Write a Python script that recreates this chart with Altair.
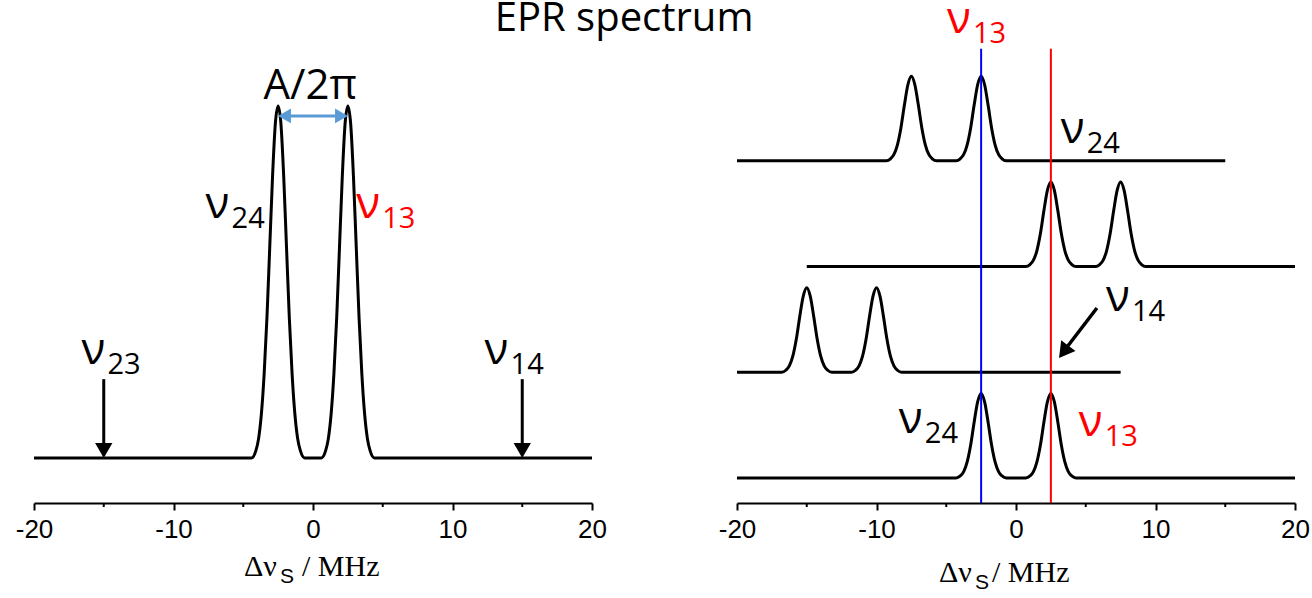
import altair as alt
import pandas as pd

# ---------------- data ----------------
TITLE = "EPR spectrum"
X_DOMAIN = [-20, 20]
MAJOR_TICKS = [-20, -10, 0, 10, 20]
MINOR_TICKS = [-15, -5, 5, 15]

# left panel: one spectrum with two lines at -2.5 / +2.5 MHz
L_RANGE = [-20, 20]
L_PEAKS = [-2.5, 2.5]
L_PROFILE_OFF = [-1.9, -1.6, -1.4, -1.2, -1.0, -0.8, -0.6, -0.4, -0.2, 0.0,
                 0.2, 0.4, 0.6, 0.8, 1.0, 1.2, 1.4, 1.6, 1.9]
L_PROFILE_VAL = [0.0, 0.02, 0.055, 0.125, 0.24, 0.40, 0.60, 0.80, 0.95, 1.0,
                 0.95, 0.80, 0.60, 0.40, 0.24, 0.125, 0.055, 0.02, 0.0]
L_Y_DOMAIN = [-0.128, 1.185]

L_ARROW_X = [-15, 15]
L_ARROW_TOP = [0.224, 0.224]
L_ARROW_SHAFT_END = [0.04, 0.04]
L_ARROW_TIP = [0.0, 0.0]

L_SPLIT_SHAFT = [-2.0, 2.0]
L_SPLIT_TIPS = [-2.5, 2.5]
L_SPLIT_Y = 0.972
L_SPLIT_LABEL = "A/2π"
L_SPLIT_LABEL_X = -0.2
L_SPLIT_LABEL_Y = 1.02

L_LABEL_X = [-7.7, 3.1, -16.6, 12.3]
L_LABEL_Y = [0.682, 0.682, 0.267, 0.267]
L_LABEL_SUB = ["24", "13", "23", "14"]
L_LABEL_COLOR = ["black", "#ff0000", "black", "black"]

# right panel: four stacked spectra
R_TRACE_OFFSET = [3, 2, 1, 0]
R_TRACE_START = [-20, -15, -20, -20]
R_TRACE_END = [15, 20, 7.5, 20]
R_TRACE_PEAKS = [[-7.5, -2.5], [2.5, 7.5], [-15, -10], [-2.5, 2.5]]
R_PEAK_HEIGHT = 0.8
R_PROFILE_OFF = [-1.8, -1.5, -1.25, -1.0, -0.75, -0.5, -0.25, 0.0,
                 0.25, 0.5, 0.75, 1.0, 1.25, 1.5, 1.8]
R_PROFILE_VAL = [0.0, 0.024, 0.076, 0.19, 0.39, 0.66, 0.9, 1.0,
                 0.9, 0.66, 0.39, 0.19, 0.076, 0.024, 0.0]
R_Y_DOMAIN = [-0.2365, 4.134]

R_VLINE_X = [-2.5, 2.5]
R_VLINE_COLOR = ["#0000ff", "#ff0000"]
R_VLINE_TOP = 4.06

R_ARROW_START = [5.8, 1.608]
R_ARROW_SHAFT_END = [3.55, 1.22]
R_ARROW_TIP = [3.08, 1.135]

R_LABEL_X = [-4.95, 3.2, 6.45, -8.4, 4.5]
R_LABEL_Y = [4.210, 3.169, 1.580, 0.426, 0.397]
R_LABEL_SUB = ["13", "24", "14", "24", "13"]
R_LABEL_COLOR = ["#ff0000", "black", "black", "black", "#ff0000"]

# ---------------- helpers ----------------
W, H = 558, 462
LABEL_FONT = "Open Sans"

XAXIS = alt.Axis(values=MAJOR_TICKS, tickSize=7, tickWidth=2, tickColor="black",
                 domainColor="black", domainWidth=2, labelFont="Liberation Sans",
                 labelFontSize=26, labelColor="black", labelPadding=6,
                 labelExpr="'' + datum.value",
                 labelFlush=False, labelOverlap=False, grid=False, title=None)
XSCALE = alt.Scale(domain=X_DOMAIN, nice=False, zero=False)


def X(field):
    return alt.X(f"{field}:Q", scale=XSCALE, axis=XAXIS)


def Y(field, dom):
    return alt.Y(f"{field}:Q", scale=alt.Scale(domain=dom, nice=False, zero=False), axis=None)


def Y2(field):
    return alt.Y2(f"{field}:Q")


def spectrum_points(trace, start, end, base, peaks, offs, vals, h):
    pts = [(start, base), (end, base)]
    for c in peaks:
        for o, v in zip(offs, vals):
            pts.append((c + o, base + h * v))
    pts.sort()
    return [{"trace": trace, "x": x, "y": y} for x, y in pts]


def nu_labels(xs, ys, subs, colors, dom):
    df = pd.DataFrame({"x": xs, "y": ys, "sub": subs, "color": colors, "nu": ["ν"] * len(xs)})
    main = alt.Chart(df).mark_text(font=LABEL_FONT, fontSize=44, align="left",
                                   baseline="alphabetic").encode(
        x=X("x"), y=Y("y", dom), text="nu:N", color=alt.Color("color:N", scale=None))
    sub = alt.Chart(df).mark_text(font=LABEL_FONT, fontSize=29, align="left",
                                  baseline="alphabetic", dx=26, dy=10).encode(
        x=X("x"), y=Y("y", dom), text="sub:N", color=alt.Color("color:N", scale=None))
    return main + sub


def minor_ticks():
    df = pd.DataFrame({"x": MINOR_TICKS})
    return alt.Chart(df).mark_rule(color="black", strokeWidth=2).encode(
        x=X("x"), y=alt.value(H), y2=alt.value(H + 4))


def axis_title(base_y, dxs):
    df = pd.DataFrame({"x": [0]})
    a = alt.Chart(df).mark_text(font="Liberation Serif", fontSize=30, align="left",
                                baseline="alphabetic", dx=dxs[0], color="black").encode(
        x=X("x"), y=alt.value(base_y), text=alt.value("Δν"))
    b = alt.Chart(df).mark_text(font="Liberation Sans", fontSize=21, align="left",
                                baseline="alphabetic", dx=dxs[1], color="black").encode(
        x=X("x"), y=alt.value(base_y + 7), text=alt.value("S"))
    c = alt.Chart(df).mark_text(font="Liberation Serif", fontSize=30, align="left",
                                baseline="alphabetic", dx=dxs[2], color="black").encode(
        x=X("x"), y=alt.value(base_y), text=alt.value("/ MHz"))
    return a + b + c


# ---------------- left panel ----------------
l_spec = pd.DataFrame(spectrum_points("L", L_RANGE[0], L_RANGE[1], 0.0, L_PEAKS,
                                      L_PROFILE_OFF, L_PROFILE_VAL, 1.0))
l_line = alt.Chart(l_spec).mark_line(color="black", strokeWidth=3, interpolate="monotone").encode(
    x=X("x"), y=Y("y", L_Y_DOMAIN), order="x:Q")

l_arrows = pd.DataFrame({"x": L_ARROW_X, "top": L_ARROW_TOP, "end": L_ARROW_SHAFT_END,
                         "tip": L_ARROW_TIP})
l_shaft = alt.Chart(l_arrows).mark_rule(color="black", strokeWidth=3).encode(
    x=X("x"), y=Y("top", L_Y_DOMAIN), y2=Y2("end"))
l_head = alt.Chart(l_arrows).mark_point(shape="triangle-down", filled=True, size=300,
                                        color="black", opacity=1, yOffset=-7.5).encode(
    x=X("x"), y=Y("tip", L_Y_DOMAIN))

split_shaft = pd.DataFrame({"x": [L_SPLIT_SHAFT[0]], "x2": [L_SPLIT_SHAFT[1]], "y": [L_SPLIT_Y]})
l_split = alt.Chart(split_shaft).mark_rule(color="#5b9bd5", strokeWidth=3).encode(
    x=X("x"), x2=alt.X2("x2:Q"), y=Y("y", L_Y_DOMAIN))
tip_l = pd.DataFrame({"x": [L_SPLIT_TIPS[0]], "y": [L_SPLIT_Y]})
tip_r = pd.DataFrame({"x": [L_SPLIT_TIPS[1]], "y": [L_SPLIT_Y]})
l_split_hl = alt.Chart(tip_l).mark_point(shape="triangle-left", filled=True, size=220,
                                         color="#5b9bd5", opacity=1, xOffset=6.4).encode(
    x=X("x"), y=Y("y", L_Y_DOMAIN))
l_split_hr = alt.Chart(tip_r).mark_point(shape="triangle-right", filled=True, size=220,
                                         color="#5b9bd5", opacity=1, xOffset=-6.4).encode(
    x=X("x"), y=Y("y", L_Y_DOMAIN))
split_lab = pd.DataFrame({"x": [L_SPLIT_LABEL_X], "y": [L_SPLIT_LABEL_Y], "t": [L_SPLIT_LABEL]})
l_split_text = alt.Chart(split_lab).mark_text(font=LABEL_FONT, fontSize=42, align="center",
                                              baseline="alphabetic", color="black").encode(
    x=X("x"), y=Y("y", L_Y_DOMAIN), text="t:N")

title_df = pd.DataFrame({"x": [22.3], "t": [TITLE]})
l_title = alt.Chart(title_df).mark_text(font=LABEL_FONT, fontSize=40, align="center",
                                        baseline="alphabetic", color="black").encode(
    x=X("x"), y=alt.value(-10), text="t:N")

left = alt.layer(
    l_line, minor_ticks(), l_shaft, l_head, l_split, l_split_hl, l_split_hr, l_split_text,
    nu_labels(L_LABEL_X, L_LABEL_Y, L_LABEL_SUB, L_LABEL_COLOR, L_Y_DOMAIN),
    axis_title(H + 73, [-69, -33, -11]), l_title,
).properties(width=W, height=H)

# ---------------- right panel ----------------
rows = []
for i in range(len(R_TRACE_OFFSET)):
    rows += spectrum_points(f"T{i}", R_TRACE_START[i], R_TRACE_END[i], R_TRACE_OFFSET[i],
                            R_TRACE_PEAKS[i], R_PROFILE_OFF, R_PROFILE_VAL, R_PEAK_HEIGHT)
r_spec = pd.DataFrame(rows)
r_line = alt.Chart(r_spec).mark_line(color="black", strokeWidth=3, interpolate="monotone").encode(
    x=X("x"), y=Y("y", R_Y_DOMAIN), detail="trace:N", order="x:Q")

vl = pd.DataFrame({"x": R_VLINE_X, "color": R_VLINE_COLOR, "top": [R_VLINE_TOP] * 2,
                   "bot": [R_Y_DOMAIN[0]] * 2})
r_vlines = alt.Chart(vl).mark_rule(strokeWidth=2).encode(
    x=X("x"), y=Y("top", R_Y_DOMAIN), y2=Y2("bot"), color=alt.Color("color:N", scale=None))

ra = pd.DataFrame({"x": [R_ARROW_START[0]], "y": [R_ARROW_START[1]],
                   "x2": [R_ARROW_SHAFT_END[0]], "y2": [R_ARROW_SHAFT_END[1]]})
r_shaft = alt.Chart(ra).mark_rule(color="black", strokeWidth=3.5).encode(
    x=X("x"), y=Y("y", R_Y_DOMAIN), x2=alt.X2("x2:Q"), y2=Y2("y2"))
rt = pd.DataFrame({"x": [R_ARROW_TIP[0]], "y": [R_ARROW_TIP[1]]})
r_head = alt.Chart(rt).mark_point(shape="triangle-down", filled=True, size=320, color="black",
                                  opacity=1, angle=37, xOffset=4.7, yOffset=-6.2).encode(
    x=X("x"), y=Y("y", R_Y_DOMAIN))

right = alt.layer(
    r_line, r_vlines, minor_ticks(), r_shaft, r_head,
    nu_labels(R_LABEL_X, R_LABEL_Y, R_LABEL_SUB, R_LABEL_COLOR, R_Y_DOMAIN),
    axis_title(H + 79, [-77, -41, -24]),
).properties(width=W, height=H)

chart = alt.hconcat(left, right, spacing=145, bounds="flush").properties(
    padding={"left": 15, "top": -3, "right": 0, "bottom": 0},
    background="white",
).configure_view(stroke=None)

chart.save("out.html", embed_options={"renderer": "svg", "actions": False})
